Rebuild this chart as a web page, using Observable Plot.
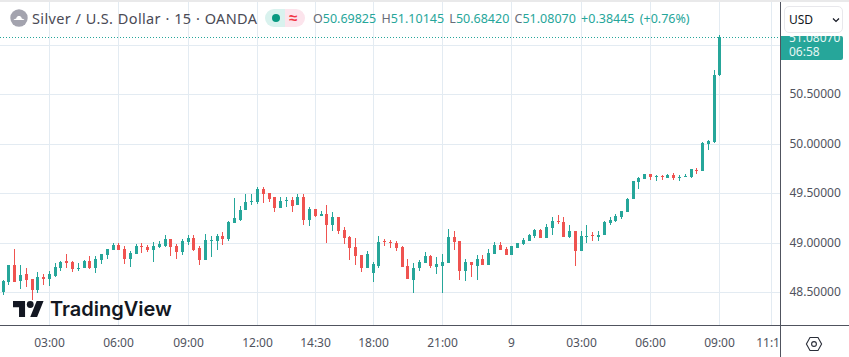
<!DOCTYPE html>
<html>
<head>
<meta charset="utf-8">
<script src="https://cdn.jsdelivr.net/npm/d3@7"></script>
<script src="https://cdn.jsdelivr.net/npm/@observablehq/plot@0.6"></script>
<style>
html,body{margin:0;padding:0;background:#fff;width:849px;height:357px;overflow:hidden}
#wrap{position:relative;width:849px;height:357px;font-family:"Noto Sans",sans-serif}
#wrap svg.plot{display:block}
.ov{position:absolute;white-space:nowrap}
</style>
</head>
<body>
<div id="wrap"></div>
<script>
const openP = [48.50,48.60,48.77,48.61,48.68,48.63,48.52,48.65,48.63,48.66,48.74,48.81,48.80,48.73,48.74,48.81,48.74,48.82,48.87,48.93,48.98,48.94,48.83,48.88,48.97,
48.96,48.93,48.96,48.97,49.04,48.97,48.90,49.01,49.05,48.95,48.82,49.02,49.02,49.07,49.04,49.20,49.23,49.33,49.41,49.41,49.54,49.50,49.46,49.35,49.42,
49.43,49.38,49.46,49.23,49.34,49.27,49.29,49.18,49.26,49.13,49.06,48.96,48.87,48.74,48.69,48.76,49.02,49.01,49.00,48.96,48.76,48.62,48.74,48.79,48.86,
48.75,48.76,48.79,49.06,49.02,48.71,48.80,48.76,48.83,48.77,48.88,48.98,48.94,48.87,48.95,48.99,49.02,49.07,49.13,49.05,49.15,49.22,49.21,49.06,49.12,
48.92,49.06,49.08,49.06,49.08,49.20,49.22,49.26,49.31,49.44,49.61,49.64,49.69,49.66,49.67,49.65,49.68,49.65,49.66,49.66,49.73,49.72,50.00,50.02,50.69825];
const highP = [48.62,48.77,48.94,48.77,48.74,48.63,48.70,48.68,48.71,48.79,48.81,48.88,48.81,48.79,48.82,48.86,48.86,48.88,48.94,49.00,49.00,48.97,48.92,48.99,49.00,
48.98,49.01,49.02,49.08,49.04,48.99,49.04,49.08,49.08,48.97,49.09,49.07,49.09,49.11,49.22,49.45,49.37,49.49,49.49,49.56,49.56,49.50,49.46,49.46,49.46,
49.46,49.49,49.49,49.36,49.34,49.32,49.38,49.31,49.26,49.16,49.07,49.05,48.87,48.91,48.80,49.07,49.04,49.03,49.02,48.97,48.83,48.79,48.82,48.90,48.87,
48.85,48.88,49.14,49.12,49.02,48.83,48.80,48.87,48.87,48.94,49.01,49.01,48.96,48.97,49.00,49.05,49.09,49.14,49.14,49.19,49.26,49.28,49.26,49.18,49.12,
49.12,49.18,49.11,49.12,49.22,49.26,49.29,49.32,49.45,49.62,49.66,49.69,49.69,49.68,49.68,49.69,49.70,49.68,49.69,49.74,49.76,50.02,50.04,50.75,51.10145];
const lowP = [48.47,48.57,48.60,48.53,48.55,48.42,48.49,48.57,48.56,48.65,48.71,48.74,48.70,48.71,48.74,48.73,48.69,48.78,48.83,48.93,48.93,48.78,48.75,48.88,48.89,
48.90,48.80,48.95,48.96,48.86,48.83,48.87,48.98,48.91,48.77,48.82,48.85,48.93,48.98,49.02,49.20,49.22,49.33,49.38,49.39,49.40,49.41,49.31,49.35,49.36,
49.31,49.38,49.18,49.17,49.26,49.27,49.00,49.12,49.09,48.99,48.82,48.77,48.70,48.74,48.60,48.74,48.97,48.95,48.91,48.75,48.63,48.49,48.71,48.79,48.74,
48.68,48.49,48.79,48.93,48.62,48.61,48.65,48.62,48.77,48.77,48.88,48.93,48.87,48.87,48.95,48.98,49.02,49.05,49.05,49.05,49.08,49.19,49.06,49.05,48.76,
48.92,49.00,49.02,49.02,49.08,49.18,49.21,49.24,49.31,49.44,49.54,49.64,49.63,49.62,49.63,49.65,49.63,49.62,49.66,49.65,49.69,49.72,49.94,50.01,50.6842];
const closeP = [48.61,48.77,48.60,48.67,48.62,48.52,48.65,48.63,48.68,48.75,48.80,48.79,48.73,48.74,48.81,48.74,48.83,48.88,48.94,48.98,48.93,48.83,48.89,48.97,48.96,
48.93,48.97,48.99,49.04,48.96,48.90,49.02,49.05,48.93,48.82,49.03,49.03,49.07,49.04,49.21,49.25,49.33,49.41,49.42,49.54,49.49,49.44,49.35,49.42,49.43,
49.37,49.46,49.23,49.34,49.27,49.29,49.18,49.26,49.12,49.05,48.95,48.86,48.74,48.88,48.78,49.01,49.01,49.00,48.95,48.75,48.63,48.74,48.80,48.86,48.76,
48.78,48.80,49.06,49.01,48.71,48.80,48.77,48.83,48.77,48.89,48.98,48.93,48.87,48.97,49.00,49.03,49.08,49.13,49.05,49.16,49.22,49.21,49.06,49.12,48.92,
49.07,49.07,49.07,49.08,49.21,49.23,49.27,49.32,49.44,49.62,49.65,49.69,49.66,49.67,49.66,49.68,49.65,49.66,49.67,49.74,49.72,50.01,50.03,50.70,51.0807];

const timeTickIdx = [8,20,32,44,54,64,76,88,100,112,124,133];
const timeTickLabels = ["03:00","06:00","09:00","12:00","14:30","18:00","21:00","9","03:00","06:00","09:00","11:15"];
const priceTicks = [48.5,49,49.5,50,50.5,51];

const UP = "#26a69a", DOWN = "#ef5350", GRID = "#e3ebf2", AXIS = "#50535e", LABEL = "#50535e";
const idx = d3.range(openP.length);
const candleColor = i => closeP[i] >= openP[i] ? UP : DOWN;
const lastClose = closeP[closeP.length - 1];

const chart = Plot.plot({
  width: 849, height: 357,
  marginLeft: 0, marginRight: 69, marginTop: 6, marginBottom: 32,
  style: {background: "#fff", fontFamily: '"Noto Sans",sans-serif', fontSize: "12px", color: LABEL},
  x: {domain: [-0.4671, 134.481], round: true, axis: null},
  y: {domain: [48.166, 51.3947], round: true, axis: null},
  color: {type: "identity"},
  marks: [
    Plot.ruleX(timeTickIdx, {stroke: GRID, strokeOpacity: 1, y1: 48.166, y2: 51.45, clip: false}),
    Plot.ruleY(priceTicks, {stroke: GRID, strokeOpacity: 1}),
    Plot.ruleY([lastClose], {stroke: UP, strokeWidth: 1, strokeDasharray: "1,2"}),
    Plot.ruleX(idx, {x: i => i, y1: i => lowP[i], y2: i => highP[i], stroke: candleColor, strokeWidth: 1}),
    Plot.ruleX(idx, {x: i => i, y1: i => openP[i], y2: i => closeP[i], stroke: candleColor, strokeWidth: 3}),
    Plot.axisX({ticks: timeTickIdx, tickFormat: d => timeTickLabels[timeTickIdx.indexOf(d)], tickSize: 0, tickPadding: 13, fontSize: 12, fill: LABEL, anchor: "bottom", label: null}),
    Plot.axisY({ticks: priceTicks, tickFormat: d => d.toFixed(5), tickSize: 0, tickPadding: 9, fontSize: 12, fill: LABEL, anchor: "right", label: null}),
    Plot.ruleX([134.481], {stroke: AXIS, y1: 48.166, y2: 51.45, clip: false}),
    Plot.ruleY([48.166], {stroke: AXIS})
  ]
});
const wrap = document.getElementById("wrap");
wrap.appendChild(chart);

function ov(html){ const t=document.createElement("template"); t.innerHTML=html.trim(); wrap.appendChild(t.content.firstChild); }

// frame pieces
ov('<div class="ov" style="left:0;top:0;width:849px;height:2px;background:#e9e9ea"></div>');
ov('<div class="ov" style="left:780px;top:2px;width:1px;height:355px;background:#50535e"></div>');
ov('<div class="ov" style="left:0;top:325px;width:849px;height:1px;background:#50535e"></div>');
ov('<div class="ov" style="left:781px;top:326px;width:68px;height:31px;background:#fff"></div>');

// header
ov('<svg class="ov" style="left:10px;top:9px" width="18" height="18" viewBox="0 0 18 18"><circle cx="9" cy="9" r="8.7" fill="#a3a3ae"/><path d="M3.5 11 C4.5 9.8 5.5 10 6.2 9.6 C6.6 7.6 8 7 9 7 C10 7 11.4 7.6 11.8 9.6 C12.5 10 13.5 9.8 14.5 11 Z" fill="#fff"/></svg>');
ov('<div class="ov" style="left:32px;top:9px;font-size:14.5px;line-height:19px;color:#4a4a55;letter-spacing:.35px;word-spacing:.4px">Silver / U.S. Dollar · 15 · OANDA</div>');
ov('<div class="ov" style="left:265px;top:9px;width:20px;height:18px;background:#d9f2ee;border-radius:9px 0 0 9px"></div>');
ov('<div class="ov" style="left:285px;top:9px;width:20px;height:18px;background:#fce4ec;border-radius:0 9px 9px 0"></div>');
ov('<div class="ov" style="left:272px;top:14px;width:8px;height:8px;border-radius:50%;background:#089981"></div>');
ov('<div class="ov" style="left:289px;top:7px;font-size:15px;line-height:20px;color:#f23645;font-weight:700">≈</div>');
const g = s => `<span style="color:#6a6d78">${s}</span>`;
ov(`<div class="ov" style="left:313px;top:10px;font-size:12.5px;line-height:18px;color:#26a69a;word-spacing:2px">${g("O")}50.69825 ${g("H")}51.10145 ${g("L")}50.68420 ${g("C")}51.08070 +0.38445 (+0.76%)</div>`);

// currency button and last-price tag
ov('<div class="ov" style="left:781px;top:36px;width:62px;height:24px;background:#26a69a;border-radius:0 2px 2px 0;overflow:hidden;color:#e6f6f4;font-size:12px;line-height:14px"><div style="position:absolute;left:8px;top:-5px">51.08070</div><div style="position:absolute;left:8px;top:9px">06:58</div></div>');
ov('<div class="ov" style="left:784px;top:6px;width:57px;height:25px;background:#fff;border:1px solid #e8e8ec;border-radius:5px;font-size:12px;line-height:25px;color:#131722"><span style="position:absolute;left:4px">USD</span><svg style="position:absolute;left:47px;top:10px" width="8" height="6" viewBox="0 0 8 6"><path d="M1 1.5 L4 4.5 L7 1.5" fill="none" stroke="#131722" stroke-width="1.2"/></svg></div>');

// hexagon settings icon
ov('<svg class="ov" style="left:805px;top:336px" width="18" height="16" viewBox="0 0 18 16"><path d="M5 1.5 H13 L16.6 8 L13 14.5 H5 L1.4 8 Z" fill="none" stroke="#2a2e39" stroke-width="1.1"/><circle cx="9" cy="8" r="2.4" fill="none" stroke="#2a2e39" stroke-width="1.1"/></svg>');

// TradingView logo
ov('<svg class="ov" style="left:13px;top:301px" width="31" height="16" viewBox="0 0 36 18.6"><path d="M14 18.6H7V7.3H0V0h14v18.6zM28 18.6h-8L27.5 0h8L28 18.6z" fill="#131722"/><circle cx="20" cy="4" r="4" fill="#131722"/></svg>');
ov('<div class="ov" style="left:50px;top:295px;font-family:Inter,sans-serif;font-weight:600;font-size:20px;line-height:28px;color:#131722">TradingView</div>');
</script>
</body>
</html>
